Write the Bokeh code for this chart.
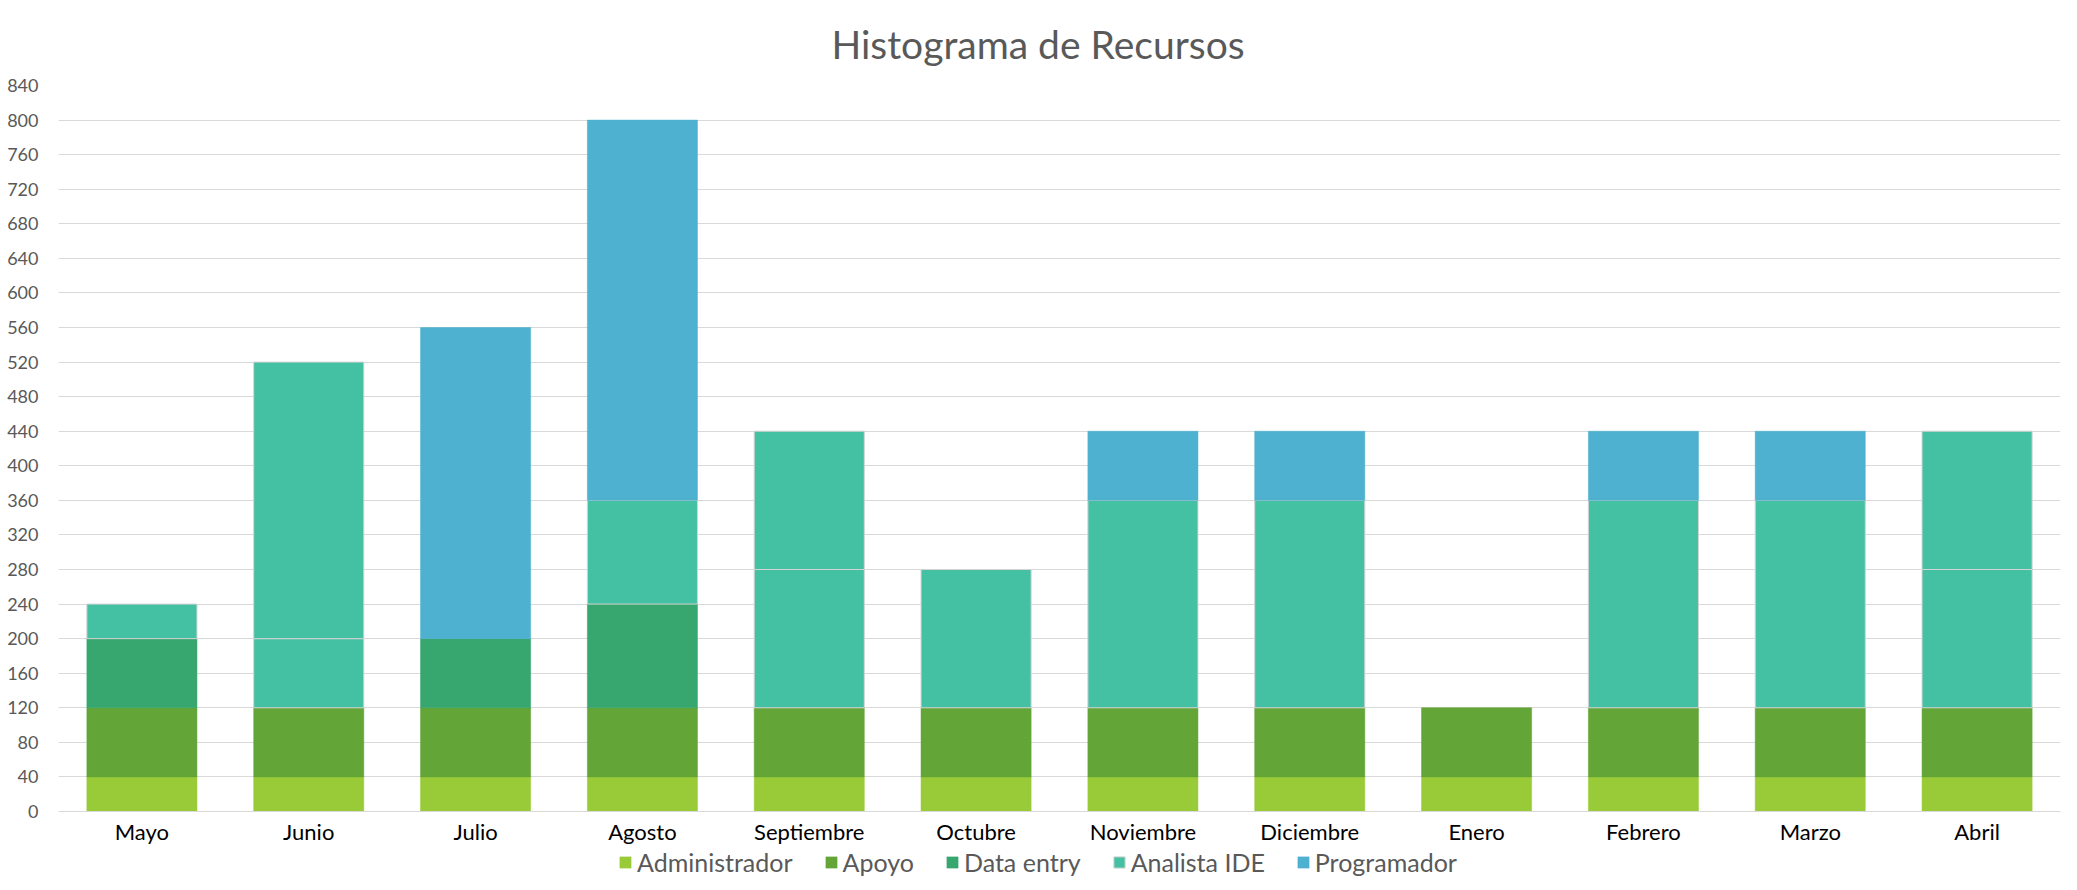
from bokeh.plotting import figure
from bokeh.layouts import column
from bokeh.models import FactorRange, Range1d, FixedTicker, Legend, LegendItem
from bokeh.embed import file_html
from bokeh.resources import INLINE

months = ["Mayo", "Junio", "Julio", "Agosto", "Septiembre", "Octubre",
          "Noviembre", "Diciembre", "Enero", "Febrero", "Marzo", "Abril"]

administrador = [40, 40, 40, 40, 40, 40, 40, 40, 40, 40, 40, 40]
apoyo = [80, 80, 80, 80, 80, 80, 80, 80, 80, 80, 80, 80]
data_entry = [80, 0, 80, 120, 0, 0, 0, 0, 0, 0, 0, 0]
analista_ide_a = [40, 80, 0, 120, 160, 160, 240, 240, 0, 240, 240, 160]
analista_ide_b = [0, 320, 0, 0, 160, 0, 0, 0, 0, 0, 0, 160]
programador = [0, 0, 360, 440, 0, 0, 80, 80, 0, 80, 80, 0]

y_ticks = list(range(0, 841, 40))

series = [
    ("Administrador", administrador, "#99CB38", None),
    ("Apoyo", apoyo, "#63A537", None),
    ("Data entry", data_entry, "#37A76F", None),
    ("Analista IDE", analista_ide_a, "#44C1A3", "#d4d4d4"),
    ("Analista IDE", analista_ide_b, "#44C1A3", "#d4d4d4"),
    ("Programador", programador, "#4EB1CF", None),
]

FONT = "Lato"

p = figure(x_range=FactorRange(*months, range_padding=0), y_range=Range1d(0, 840),
           frame_width=2002, frame_height=726, output_backend="svg", toolbar_location=None,
           min_border_left=58, min_border_right=7, min_border_top=83, min_border_bottom=36,
           title="Histograma de Recursos")

bottoms = [0] * len(months)
for name, vals, color, lc in series:
    xs, tops, bots = [], [], []
    for i, v in enumerate(vals):
        if v > 0:
            xs.append(months[i])
            bots.append(bottoms[i])
            tops.append(bottoms[i] + v)
            bottoms[i] += v
    p.vbar(x=xs, top=tops, bottom=bots, width=0.66, fill_color=color,
           line_color=lc if lc else color, line_width=1 if lc else 0.5)

p.title.align = "left"
p.title.text_font = FONT
p.title.text_font_size = "39px"
p.title.text_font_style = "normal"
p.title.text_color = "#595959"
p.title.offset = 773
p.title.standoff = 37

p.outline_line_color = None
p.xgrid.grid_line_color = None
p.ygrid.grid_line_color = "#d9d9d9"
p.ygrid.grid_line_width = 1

p.yaxis.ticker = FixedTicker(ticks=y_ticks)
p.yaxis.axis_line_color = None
p.yaxis.major_tick_line_color = None
p.yaxis.minor_tick_line_color = None
p.yaxis.major_label_text_font = FONT
p.yaxis.major_label_text_font_size = "18px"
p.yaxis.major_label_text_color = "#595959"
p.yaxis.major_label_standoff = 14

p.xaxis.axis_line_color = "#d9d9d9"
p.xaxis.major_tick_line_color = None
p.xaxis.minor_tick_line_color = None
p.xaxis.major_label_text_font = FONT
p.xaxis.major_label_text_font_size = "22px"
p.xaxis.major_label_text_color = "#000000"
p.xaxis.major_label_standoff = 0

# legend strip: a separate figure whose legend proxies sit outside its visible range
pl = figure(x_range=Range1d(0, 1), y_range=Range1d(0, 1), frame_width=2002, frame_height=30,
            output_backend="svg", toolbar_location=None,
            min_border_left=58, min_border_right=7, min_border_top=0, min_border_bottom=0)
pl.axis.visible = False
pl.grid.visible = False
pl.outline_line_color = None

items = {}
for name, vals, color, lc in series:
    if name in items:
        continue
    r = pl.vbar(x=[-5], top=[-4], bottom=[-5], width=0.1, fill_color=color,
                line_color=lc if lc else color, line_width=1 if lc else 0.5)
    items[name] = [r]

legend = Legend(items=[LegendItem(label=k, renderers=v) for k, v in items.items()],
                orientation="horizontal", location=(560, 0),
                label_text_font=FONT, label_text_font_size="25px", label_text_color="#595959",
                glyph_width=14, glyph_height=14, label_standoff=5, spacing=31,
                padding=0, margin=0, border_line_color=None, background_fill_alpha=0)
pl.add_layout(legend)

layout = column(p, pl, spacing=0)
open("out.html", "w").write(file_html(layout, INLINE))
